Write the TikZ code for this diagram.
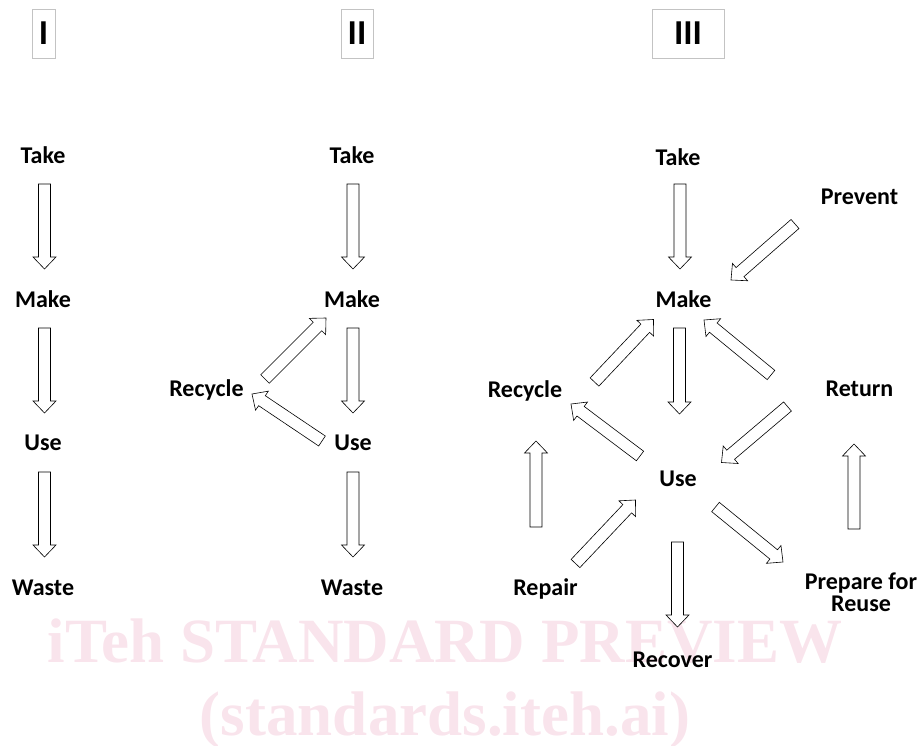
\documentclass[tikz,border=0pt]{standalone}
\usepackage{fontspec}
\setmainfont{Carlito}
\newfontfamily\wmfont{Liberation Serif}
\usetikzlibrary{calc}
\definecolor{wmpink}{RGB}{249,228,236}
\definecolor{boxgray}{RGB}{195,195,195}

% block arrow from tail (#1) to tip (#2)
\newcommand\flow[2]{%
  \coordinate (ft) at (#1);
  \coordinate (fp) at (#2);
  \coordinate (fh) at ($(fp)!12pt!(ft)$);
  \filldraw[flowline] ($(ft)!6pt!90:(fp)$) -- ($(fh)!6pt!90:(fp)$) -- ($(fh)!11.5pt!90:(fp)$) -- (fp)
    -- ($(fh)!11.5pt!-90:(fp)$) -- ($(fh)!6pt!-90:(fp)$) -- ($(ft)!6pt!-90:(fp)$) -- cycle;
}

\begin{document}
\begin{tikzpicture}[x=1pt,y=-1pt,
    hdr/.style={draw=boxgray, line width=0.8pt, minimum height=49pt, inner sep=0pt,
      font=\bfseries\fontsize{35}{35}\selectfont, text height=22.5pt, text depth=0pt},
    lbl/.style={font=\bfseries\fontsize{24}{22}\selectfont, inner sep=0pt, text height=15.5pt, text depth=0pt},
    wm/.style={font=\wmfont\bfseries\fontsize{63}{63}\selectfont, text=wmpink, inner sep=0pt, anchor=base},
    flowline/.style={draw=black, fill=white, line width=0.6pt, line join=miter}]
  \useasboundingbox (0,0) rectangle (919,746);

  \node[wm] (wm1) at (445,662) {iTeh STANDARD PREVIEW};
  \node[wm] (wm2) at (445,735) {(standards.iteh.ai)};

  \node[hdr, minimum width=23pt] (h1) at (43.5,33.5) {I};
  \node[hdr, minimum width=32pt] (h2) at (357,33.5) {II};
  \node[hdr, minimum width=72pt] (h3) at (688,33.5) {III};

  % I
  \node[lbl] (take1) at (43,156) {Take};
  \node[lbl] (make1) at (43,299.5) {Make};
  \node[lbl] (use1) at (43,443) {Use};
  \node[lbl] (waste1) at (43,588) {Waste};
  \flow{$(take1)+(1.5,28)$}{$(make1)+(1.5,-30.5)$}
  \flow{$(make1)+(1.5,28.5)$}{$(use1)+(1.5,-30)$}
  \flow{$(use1)+(1.5,29)$}{$(waste1)+(1.5,-31)$}

  % II
  \node[lbl] (take2) at (352,156) {Take};
  \node[lbl] (make2) at (352,300) {Make};
  \node[lbl] (use2) at (353,443) {Use};
  \node[lbl] (waste2) at (352,588) {Waste};
  \node[lbl] (recycle2) at (206.5,389) {Recycle};
  \flow{$(take2)+(1,28)$}{$(make2)+(1,-31)$}
  \flow{$(make2)+(1,28)$}{$(use2)+(0,-30)$}
  \flow{$(use2)+(0,29)$}{$(waste2)+(1,-31)$}
  \flow{$(recycle2)+(58.5,-10)$}{$(make2)+(-26,18)$}
  \flow{$(use2)+(-31,-2)$}{$(recycle2)+(45.5,5)$}

  % III
  \node[lbl] (take3) at (678,158) {Take};
  \node[lbl] (make3) at (683.5,300) {Make};
  \node[lbl] (use3) at (678,479) {Use};
  \node[lbl] (recycle3) at (525,390) {Recycle};
  \node[lbl] (return3) at (859.5,389) {Return};
  \node[lbl] (prevent3) at (859.5,197) {Prevent};
  \node[lbl] (repair3) at (545.5,588) {Repair};
  \node[lbl] (recover3) at (672.5,660) {Recover};
  \node[font=\bfseries\fontsize{24}{22}\selectfont, inner sep=0pt, align=center] (prepare3) at (861,592) {Prepare for\\Reuse};
  \flow{$(take3)+(2,26)$}{$(make3)+(-3.5,-31)$}
  \flow{$(prevent3)+(-64.5,27)$}{$(make3)+(47.5,-20)$}
  \flow{$(recycle3)+(69.5,-8)$}{$(make3)+(-30,19.5)$}
  \flow{$(make3)+(-4,28)$}{$(use3)+(1.5,-65)$}
  \flow{$(return3)+(-88.5,-14)$}{$(make3)+(20.5,20)$}
  \flow{$(use3)+(-38,-23)$}{$(recycle3)+(46,14)$}
  \flow{$(return3)+(-72,17.5)$}{$(use3)+(43.5,-16.5)$}
  \flow{$(repair3)+(-9.5,-61)$}{$(recycle3)+(11,51)$}
  \flow{$(repair3)+(30,-24.5)$}{$(use3)+(-42.5,21)$}
  \flow{$(use3)+(-0.5,63)$}{$(recover3)+(5,-33)$}
  \flow{$(use3)+(37.5,28)$}{$(prepare3)+(-78,-30)$}
  \flow{$(prepare3)+(-7,-63)$}{$(return3)+(-5.5,55)$}
\end{tikzpicture}
\end{document}
